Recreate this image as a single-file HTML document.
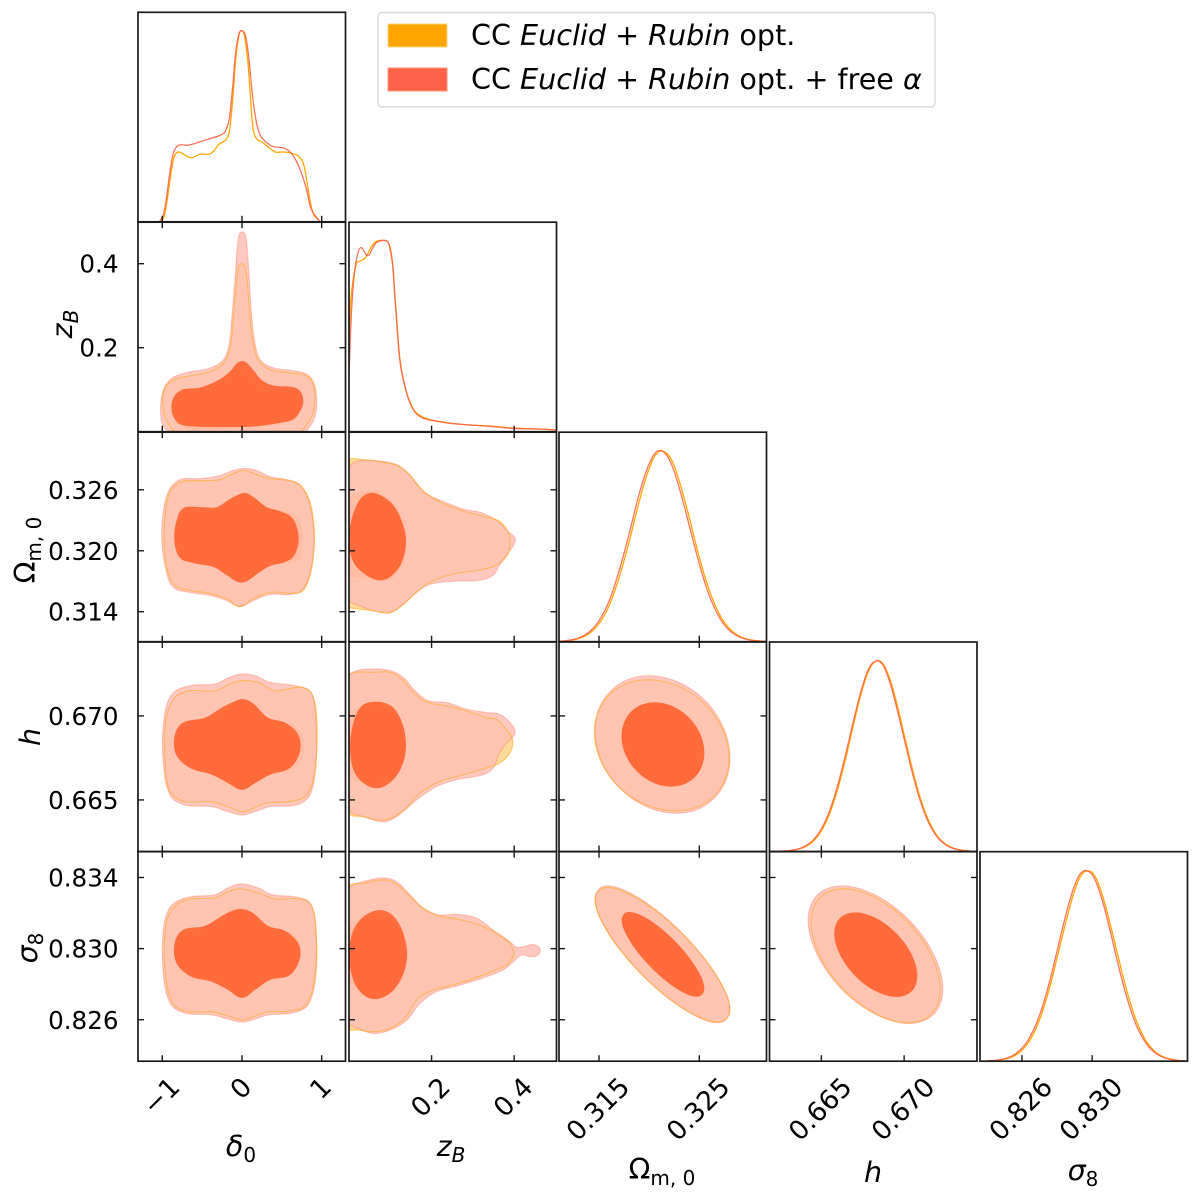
<!DOCTYPE html>
<html lang="en">
<head>
<meta charset="utf-8">
<title>Triangle posterior plot</title>
<style>
html,body{margin:0;padding:0;background:#fff;}
svg{display:block;font-family:"DejaVu Sans","Liberation Sans",sans-serif;fill:#000;}
</style>
</head>
<body>
<svg id="plot" xmlns="http://www.w3.org/2000/svg" width="1200" height="1202" viewBox="0 0 1200 1202">
  <g id="panels"></g>
  <g id="axis-labels" font-size="28.5">
    <text x="241" y="1156" text-anchor="middle"><tspan font-style="italic">δ</tspan><tspan font-size="20" dy="6">0</tspan></text>
    <text x="451" y="1156" text-anchor="middle"><tspan font-style="italic">z</tspan><tspan font-size="20" font-style="italic" dy="6">B</tspan></text>
    <text x="662" y="1179" text-anchor="middle">Ω<tspan font-size="20" dy="6">m, 0</tspan></text>
    <text x="873" y="1182" text-anchor="middle" font-style="italic">h</text>
    <text x="1083" y="1180" text-anchor="middle"><tspan font-style="italic">σ</tspan><tspan font-size="20" dy="6">8</tspan></text>
    <text transform="translate(72,324) rotate(-90)" text-anchor="middle"><tspan font-style="italic">z</tspan><tspan font-size="20" font-style="italic" dy="6">B</tspan></text>
    <text transform="translate(35,550) rotate(-90)" text-anchor="middle">Ω<tspan font-size="20" dy="6">m, 0</tspan></text>
    <text transform="translate(40,737) rotate(-90)" text-anchor="middle" font-style="italic">h</text>
    <text transform="translate(37,948) rotate(-90)" text-anchor="middle"><tspan font-style="italic">σ</tspan><tspan font-size="20" dy="6">8</tspan></text>
  </g>
  <g id="legend">
    <rect x="378" y="12.5" width="557" height="94.5" rx="4" ry="4" fill="#fff" stroke="#d9d9d9" stroke-width="1.4"/>
    <rect x="388" y="24" width="59" height="23" fill="#ffa500" stroke="#ffd27a" stroke-width="1"/>
    <text x="471" y="45" font-size="28.6">CC <tspan font-style="italic">Euclid</tspan> + <tspan font-style="italic">Rubin</tspan> opt.</text>
    <rect x="388" y="68" width="59" height="23" fill="#ff6347" stroke="#ff8f7e" stroke-width="1"/>
    <text x="471" y="89" font-size="28.6">CC <tspan font-style="italic">Euclid</tspan> + <tspan font-style="italic">Rubin</tspan> opt. + free <tspan font-style="italic">α</tspan></text>
  </g>
</svg>
<script>
/* ---------- tick values and labels ---------- */
const deltaTicks = [-1, 0, 1];
const deltaTickLabels = ['−1', '0', '1'];
const zbXTicks = [0.2, 0.4];
const zbXTickLabels = ['0.2', '0.4'];
const omegaXTicks = [0.315, 0.325];
const omegaXTickLabels = ['0.315', '0.325'];
const hXTicks = [0.665, 0.670];
const hXTickLabels = ['0.665', '0.670'];
const sigmaXTicks = [0.826, 0.830];
const sigmaXTickLabels = ['0.826', '0.830'];
const zbYTicks = [0.4, 0.2];
const zbYTickLabels = ['0.4', '0.2'];
const omegaYTicks = [0.326, 0.320, 0.314];
const omegaYTickLabels = ['0.326', '0.320', '0.314'];
const hYTicks = [0.670, 0.665];
const hYTickLabels = ['0.670', '0.665'];
const sigmaYTicks = [0.834, 0.830, 0.826];
const sigmaYTickLabels = ['0.834', '0.830', '0.826'];

/* ---------- 1D marginals: [parameter, relative density] ---------- */
const deltaOrange1D = [[-1.038,0],[-.987,.017],[-.946,.096],[-.904,.218],[-.862,.323],[-.828,.358],[-.787,.365],[-.736,.354],[-.686,.342],[-.636,.335],[-.586,.342],[-.536,.353],[-.477,.354],[-.41,.353],[-.351,.372],[-.285,.407],[-.201,.428],[-.159,.471],[-.117,.637],[-.075,.864],[-.033,.986],[0,1],[.033,.969],[.075,.829],[.109,.637],[.142,.48],[.184,.433],[.259,.415],[.351,.384],[.418,.365],[.519,.365],[.603,.361],[.707,.344],[.77,.305],[.812,.218],[.854,.113],[.904,.035],[.987,0]];
const deltaRed1D = [[-1.038,0],[-.987,.035],[-.946,.131],[-.904,.262],[-.862,.358],[-.82,.393],[-.77,.403],[-.695,.4],[-.611,.407],[-.527,.419],[-.402,.435],[-.276,.452],[-.213,.471],[-.163,.532],[-.117,.707],[-.075,.899],[-.033,.99],[0,1],[.042,.977],[.084,.864],[.134,.654],[.184,.515],[.234,.449],[.31,.414],[.393,.393],[.519,.387],[.603,.366],[.686,.314],[.762,.236],[.812,.166],[.874,.061],[.98,0]];
const zbOrange1D = [[0,.471],[.004,.68],[.0105,.803],[.0185,.881],[.027,.894],[.036,.902],[.044,.925],[.052,.96],[.063,.991],[.075,1],[.091,.998],[.099,.969],[.106,.873],[.111,.716],[.117,.541],[.123,.384],[.131,.279],[.144,.175],[.16,.105],[.18,.075],[.204,.059],[.244,.045],[.293,.035],[.341,.03],[.398,.019],[.462,.014],[.5,.009]];
const zbRed1D = [[0,.297],[.0065,.646],[.0145,.855],[.0226,.942],[.029,.963],[.036,.946],[.046,.921],[.055,.951],[.065,.986],[.079,1],[.093,.995],[.099,.96],[.106,.864],[.111,.707],[.117,.532],[.123,.375],[.131,.276],[.144,.171],[.16,.101],[.18,.07],[.204,.058],[.244,.044],[.293,.035],[.341,.028],[.398,.017],[.462,.014],[.5,.009]];
const omegaOrange1D = [[.3110,.0018],[.3120,.0058],[.3130,.0167],[.3140,.042],[.3150,.095],[.3160,.187],[.3170,.334],[.3180,.522],[.3190,.732],[.3200,.904],[.3210,.995],[.3220,.971],[.3230,.84],[.3240,.649],[.3250,.441],[.3260,.269],[.3270,.144],[.3280,.069],[.3290,.029],[.3300,.011],[.3310,.004],[.3317,.001]];
const omegaRed1D = [[.3110,.0023],[.3120,.0072],[.3130,.0204],[.3140,.05],[.3150,.11],[.3160,.212],[.3170,.37],[.3180,.564],[.3190,.772],[.3200,.93],[.3210,1],[.3220,.953],[.3230,.804],[.3240,.607],[.3250,.407],[.3260,.24],[.3270,.127],[.3280,.059],[.3290,.025],[.3300,.009],[.3310,.003],[.3317,.001]];
const hOrange1D = [[.6620,.0004],[.6625,.0012],[.6630,.0037],[.6635,.0099],[.6640,.024],[.6645,.053],[.6650,.108],[.6655,.198],[.6660,.33],[.6665,.498],[.6670,.685],[.6675,.855],[.6680,.969],[.6685,.998],[.6690,.934],[.6695,.793],[.6700,.612],[.6705,.43],[.6710,.273],[.6715,.158],[.6720,.081],[.6725,.039],[.6730,.017],[.6735,.0066],[.6740,.0023]];
const hRed1D = [[.6620,.0005],[.6625,.0014],[.6630,.0043],[.6635,.011],[.6640,.027],[.6645,.059],[.6650,.118],[.6655,.213],[.6660,.35],[.6665,.52],[.6670,.705],[.6675,.87],[.6680,.977],[.6685,.995],[.6690,.92],[.6695,.77],[.6700,.59],[.6705,.41],[.6710,.258],[.6715,.147],[.6720,.075],[.6725,.035],[.6730,.015],[.6735,.0058],[.6740,.002]];
const sigmaOrange1D = [[.8240,.0012],[.8245,.0038],[.8250,.01],[.8255,.025],[.8260,.057],[.8265,.117],[.8270,.216],[.8275,.36],[.8280,.54],[.8285,.727],[.8290,.891],[.8295,.987],[.8300,.987],[.8305,.891],[.8310,.727],[.8315,.54],[.8320,.36],[.8325,.216],[.8330,.117],[.8335,.057],[.8340,.025],[.8345,.01],[.8350,.0038],[.8354,.0015]];
const sigmaRed1D = [[.8240,.0015],[.8245,.0046],[.8250,.0125],[.8255,.031],[.8260,.068],[.8265,.135],[.8270,.24],[.8275,.391],[.8280,.576],[.8285,.766],[.8290,.919],[.8295,.995],[.8300,.976],[.8305,.864],[.8310,.691],[.8315,.498],[.8320,.325],[.8325,.191],[.8330,.103],[.8335,.05],[.8340,.022],[.8345,.0084],[.8350,.003],[.8354,.0012]];

/* ---------- 2D contours: [x parameter, y parameter] ---------- */
const zbDeltaRedOuter = [[0,.476],[.042,.468],[.067,.433],[.092,.361],[.126,.266],[.176,.198],[.247,.167],[.393,.152],[.644,.145],[.812,.137],[.904,.115],[.937,.075],[.916,.036],[.833,.008],[.686,-.012],[-.695,-.012],[-.967,.008],[-1.021,.052],[-.987,.099],[-.883,.127],[-.695,.141],[-.444,.149],[-.255,.167],[-.172,.198],[-.13,.266],[-.088,.361],[-.059,.44],[-.033,.471]];
const zbDeltaOrangeOuter = [[0,.4],[.042,.389],[.071,.345],[.1,.274],[.142,.21],[.205,.171],[.351,.148],[.603,.14],[.812,.133],[.895,.111],[.916,.075],[.874,.036],[.749,0],[.686,-.016],[-.695,-.016],[-.849,0],[-.967,.036],[-.996,.075],[-.967,.103],[-.862,.123],[-.653,.133],[-.402,.143],[-.234,.163],[-.151,.198],[-.109,.266],[-.075,.345],[-.046,.389]];
const zbDeltaRedInner = [[.008,.168],[.059,.164],[.142,.147],[.247,.123],[.393,.11],[.644,.106],[.736,.095],[.77,.071],[.728,.048],[.644,.029],[.477,.021],[.184,.013],[-.151,.011],[-.569,.012],[-.778,.018],[-.87,.04],[-.883,.067],[-.841,.087],[-.736,.101],[-.527,.105],[-.297,.123],[-.151,.143],[-.059,.164]];
const zbDeltaOrangeInner = [[.008,.147],[.079,.137],[.163,.115],[.268,.102],[.477,.099],[.644,.103],[.736,.091],[.762,.069],[.707,.044],[.561,.026],[.268,.012],[-.151,.006],[-.569,.006],[-.778,.013],[-.862,.036],[-.87,.067],[-.82,.087],[-.695,.095],[-.485,.099],[-.276,.115],[-.109,.135],[-.046,.145]];

const omegaDeltaRedOuter = [[.038,.3281],[.184,.3279],[.351,.3273],[.561,.3270],[.728,.3265],[.833,.3250],[.895,.3227],[.904,.3204],[.854,.3178],[.75,.3161],[.603,.3157],[.351,.3157],[.142,.3151],[-.025,.3145],[-.192,.3151],[-.402,.3156],[-.653,.3159],[-.862,.3164],[-.954,.3181],[-1.004,.3207],[-.996,.3233],[-.925,.3258],[-.778,.3270],[-.527,.3271],[-.276,.3274],[-.109,.3279]];
const omegaDeltaOrangeOuter = [[.025,.3279],[.184,.3275],[.351,.3271],[.603,.3269],[.749,.3263],[.854,.3248],[.904,.3224],[.904,.3201],[.862,.3178],[.77,.3161],[.644,.3158],[.351,.3159],[.142,.3153],[-.033,.3145],[-.192,.3153],[-.402,.3158],[-.653,.3161],[-.841,.3166],[-.937,.3181],[-.975,.3207],[-.967,.3233],[-.904,.3258],[-.757,.3268],[-.527,.3269],[-.276,.3270],[-.109,.3276]];
const omegaDeltaRedInner = [[.029,.3257],[.142,.3253],[.31,.3243],[.477,.3239],[.623,.3233],[.699,.3220],[.707,.3207],[.644,.3194],[.54,.3189],[.351,.3185],[.205,.3178],[.059,.3170],[-.046,.3169],[-.192,.3176],[-.36,.3184],[-.611,.3188],[-.778,.3193],[-.849,.3210],[-.82,.3230],[-.736,.3242],[-.527,.3243],[-.318,.3243],[-.151,.3251]];
const omegaDeltaOrangeInner = [[.029,.3256],[.163,.3251],[.351,.3241],[.603,.3238],[.728,.3230],[.762,.3210],[.728,.3192],[.561,.3187],[.372,.3186],[.205,.3179],[.059,.3170],[-.046,.3169],[-.192,.3178],[-.36,.3186],[-.611,.3189],[-.778,.3192],[-.849,.3209],[-.8,.3227],[-.715,.3238],[-.527,.3238],[-.318,.3241],[-.151,.3250]];

const hDeltaRedOuter = [[0,.6725],[.163,.6724],[.351,.6720],[.665,.6718],[.866,.6714],[.928,.6695],[.928,.6671],[.853,.6653],[.69,.6647],[.351,.6646],[.163,.6643],[0,.6641],[-.176,.6643],[-.376,.6646],[-.715,.6647],[-.903,.6653],[-.991,.6674],[-.979,.6698],[-.878,.6713],[-.652,.6718],[-.339,.6719],[-.151,.6723]];
const hDeltaOrangeOuter = [[0,.6721],[.201,.6720],[.414,.6715],[.728,.6717],[.878,.6713],[.941,.6695],[.916,.6668],[.816,.6653],[.602,.6649],[.289,.6648],[.1,.6644],[-.013,.6643],[-.176,.6646],[-.402,.6649],[-.715,.6649],[-.903,.6655],[-.966,.6674],[-.954,.6698],[-.841,.6711],[-.652,.6715],[-.339,.6715],[-.151,.6719]];
const hDeltaRedInner = [[0,.6710],[.125,.6708],[.326,.6699],[.54,.6696],[.703,.6689],[.728,.6679],[.602,.6669],[.351,.6665],[.163,.6660],[0,.6656],[-.176,.6660],[-.376,.6665],[-.652,.6669],[-.828,.6677],[-.841,.6689],[-.74,.6696],[-.464,.6699],[-.251,.6705],[-.125,.6708]];
const hDeltaOrangeInner = [[0,.6709],[.125,.6707],[.326,.6698],[.602,.6696],[.753,.6689],[.765,.6677],[.627,.6668],[.351,.6665],[.163,.6660],[0,.6656],[-.176,.6661],[-.376,.6666],[-.652,.6669],[-.816,.6677],[-.816,.6688],[-.715,.6695],[-.464,.6698],[-.251,.6702],[-.125,.6707]];

const sigmaDeltaRedOuter = [[0,.83365],[.201,.83342],[.376,.83303],[.665,.83291],[.853,.83257],[.928,.83105],[.928,.82852],[.828,.82683],[.627,.82638],[.326,.82627],[.163,.82604],[0,.82587],[-.176,.82604],[-.376,.82627],[-.715,.82638],[-.903,.82694],[-.991,.8288],[-.979,.83133],[-.878,.83246],[-.652,.83291],[-.339,.83303],[-.151,.83347]];
const sigmaDeltaOrangeOuter = [[0,.83336],[.201,.83314],[.414,.8328],[.703,.8328],[.866,.83246],[.928,.83105],[.916,.82852],[.803,.82683],[.602,.82649],[.326,.82644],[.163,.82621],[0,.82598],[-.176,.82621],[-.376,.82644],[-.715,.82649],[-.878,.827],[-.966,.8288],[-.954,.83133],[-.841,.83241],[-.627,.8328],[-.339,.83285],[-.151,.83325]];
const sigmaDeltaRedInner = [[0,.83223],[.138,.83201],[.326,.83128],[.54,.831],[.703,.83032],[.728,.82948],[.602,.82852],[.351,.82824],[.163,.82768],[0,.82723],[-.176,.82768],[-.376,.82813],[-.652,.82846],[-.828,.82925],[-.841,.83038],[-.74,.83105],[-.464,.83128],[-.251,.83184],[-.125,.83212]];
const sigmaDeltaOrangeInner = [[0,.83207],[.138,.83179],[.326,.83111],[.602,.83094],[.728,.83021],[.728,.82948],[.602,.82852],[.351,.82818],[.163,.82768],[0,.82728],[-.176,.82773],[-.376,.82824],[-.652,.8284],[-.816,.82908],[-.828,.83021],[-.715,.83088],[-.464,.83105],[-.251,.83156],[-.125,.83195]];

const omegaZbRedOuter = [[0,.3281],[.0185,.3288],[.059,.3289],[.115,.3285],[.144,.3276],[.18,.3258],[.22,.3250],[.277,.3241],[.317,.3238],[.357,.3230],[.385,.3219],[.403,.3211],[.382,.3196],[.365,.3186],[.349,.3176],[.317,.3171],[.252,.3170],[.196,.3167],[.16,.3158],[.131,.3147],[.099,.3139],[.059,.3141],[.0185,.3147],[0,.3151],[-.03,.3188],[-.03,.3237]];
const omegaZbOrangeOuter = [[0,.3289],[.027,.3290],[.067,.3288],[.115,.3284],[.144,.3276],[.18,.3259],[.22,.3248],[.277,.3239],[.325,.3234],[.365,.3229],[.385,.3219],[.39,.3210],[.385,.3197],[.357,.3186],[.317,.3181],[.252,.3177],[.196,.3169],[.16,.3158],[.131,.3147],[.099,.3139],[.059,.3141],[.0185,.3143],[0,.3145],[-.03,.3188],[-.03,.3237]];
const omegaZbRedInner = [[.055,.3257],[.079,.3254],[.107,.3245],[.127,.3230],[.138,.3210],[.127,.3188],[.099,.3174],[.071,.3171],[.035,.3178],[.0105,.3189],[0,.3207],[.004,.3227],[.0185,.3245],[.035,.3254]];
const omegaZbOrangeInner = [[0,.3255],[.027,.3258],[.059,.3259],[.087,.3255],[.115,.3243],[.135,.3227],[.14,.3210],[.131,.3188],[.103,.3172],[.071,.3170],[.035,.3173],[0,.3175],[-.03,.3188],[-.03,.3237]];

const hZbRedOuter = [[0,.6724],[.0185,.6727],[.059,.6728],[.099,.6727],[.131,.6723],[.16,.6715],[.192,.6709],[.236,.6708],[.285,.6704],[.333,.6702],[.365,.6701],[.39,.6696],[.402,.6690],[.382,.6684],[.365,.6678],[.349,.6669],[.325,.6665],[.26,.6662],[.212,.6658],[.164,.6650],[.115,.6640],[.083,.6637],[.035,.6640],[0,.6644],[-.03,.6666],[-.03,.6706]];
const hZbOrangeOuter = [[0,.6724],[.0185,.6726],[.059,.6726],[.099,.6726],[.127,.6722],[.16,.6713],[.192,.6708],[.236,.6706],[.285,.6703],[.333,.6699],[.357,.6698],[.381,.6692],[.396,.6686],[.39,.6678],[.365,.6672],[.333,.6669],[.277,.6665],[.22,.6661],[.172,.6654],[.123,.6642],[.083,.6638],[.035,.6640],[0,.6642],[-.03,.6666],[-.03,.6706]];
const hZbRedInner = [[.047,.6708],[.083,.6708],[.111,.6704],[.131,.6694],[.138,.6683],[.131,.6672],[.107,.6662],[.071,.6657],[.035,.6660],[.0105,.6668],[.0024,.6682],[.0105,.6696],[.027,.6705]];
const hZbOrangeInner = [[0,.6701],[.027,.6705],[.059,.6706],[.095,.6705],[.123,.6696],[.135,.6684],[.13,.6672],[.107,.6664],[.071,.6660],[.035,.6660],[0,.6664],[-.03,.6676]];

const sigmaZbRedOuter = [[0,.8334],[.035,.83377],[.083,.83398],[.115,.83377],[.148,.83302],[.18,.83227],[.216,.8319],[.26,.83193],[.309,.83171],[.349,.83105],[.39,.83039],[.406,.83008],[.43,.83015],[.446,.83023],[.462,.83002],[.458,.82964],[.438,.82955],[.418,.82964],[.398,.82927],[.373,.8288],[.333,.82842],[.269,.82795],[.212,.82758],[.172,.82692],[.14,.82598],[.099,.82542],[.059,.82523],[.023,.82551],[0,.82579],[-.03,.82805],[-.03,.8318]];
const sigmaZbOrangeOuter = [[0,.83353],[.035,.83368],[.083,.83387],[.111,.83368],[.148,.83293],[.18,.83227],[.216,.83186],[.26,.83167],[.309,.83139],[.349,.83096],[.385,.83039],[.399,.82983],[.39,.82927],[.365,.82889],[.325,.82852],[.26,.82801],[.204,.82767],[.168,.8272],[.135,.82608],[.099,.82551],[.059,.82532],[.023,.82542],[0,.82551],[-.03,.82805],[-.03,.8318]];
const sigmaZbRedInner = [[.071,.83216],[.099,.83199],[.123,.83133],[.138,.8303],[.14,.82936],[.127,.82833],[.099,.82748],[.059,.82716],[.027,.82758],[.0065,.82852],[.0008,.82974],[.009,.83096],[.035,.8318]];
const sigmaZbOrangeInner = [[0,.83133],[.043,.83171],[.083,.83186],[.115,.83133],[.134,.8303],[.135,.82936],[.123,.82833],[.091,.82748],[.059,.8272],[.027,.82758],[0,.82823],[-.03,.82992]];

const hOmegaRedOuter = [[.32806,.66748],[.32716,.66961],[.3247,.67137],[.32133,.67231],[.31796,.67219],[.3155,.671],[.3146,.66912],[.3155,.66699],[.31796,.66523],[.32133,.66429],[.3247,.66441],[.32716,.6656]];
const hOmegaOrangeOuter = [[.32797,.66747],[.32707,.6695],[.32461,.67118],[.32125,.67207],[.31789,.67196],[.31543,.67082],[.31453,.66903],[.31543,.667],[.31789,.66532],[.32125,.66443],[.32461,.66454],[.32707,.66568]];
const hOmegaRedInner = [[.3255,.6678],[.32495,.6691],[.32344,.67018],[.32137,.67076],[.3193,.67068],[.31779,.66996],[.31724,.6688],[.31779,.6675],[.3193,.66642],[.32137,.66584],[.32344,.66592],[.32495,.66664]];
const hOmegaOrangeInner = [[.32553,.66784],[.32498,.66912],[.32348,.67018],[.32142,.67075],[.31936,.67068],[.31786,.66996],[.31731,.66882],[.31786,.66754],[.31936,.66648],[.32142,.66591],[.32348,.66598],[.32498,.6667]];

const sigmaOmegaRedOuter = [[.32806,.82653],[.32716,.82805],[.3247,.83001],[.32133,.83189],[.31796,.83317],[.3155,.83351],[.3146,.83283],[.3155,.83131],[.31796,.82935],[.32133,.82747],[.3247,.82619],[.32716,.82585]];
const sigmaOmegaOrangeOuter = [[.32805,.82656],[.32715,.82806],[.32469,.82999],[.32133,.83183],[.31797,.83308],[.31551,.83342],[.31461,.83276],[.31551,.83126],[.31797,.82933],[.32133,.82749],[.32469,.82624],[.32715,.8259]];
const sigmaOmegaRedInner = [[.3255,.82773],[.32495,.82867],[.32344,.82989],[.32138,.83105],[.31932,.83184],[.31781,.83205],[.31726,.83163],[.31781,.83069],[.31932,.82947],[.32138,.82831],[.32344,.82752],[.32495,.82731]];
const sigmaOmegaOrangeInner = [[.32552,.82779],[.32497,.82871],[.32345,.8299],[.32138,.83104],[.31931,.83181],[.31779,.83202],[.31724,.83161],[.31779,.83069],[.31931,.8295],[.32138,.82836],[.32345,.82759],[.32497,.82738]];

const sigmaHRedOuter = [[.67234,.82772],[.67179,.82966],[.67031,.8316],[.66827,.83301],[.66623,.83353],[.66475,.83301],[.6642,.8316],[.66475,.82966],[.66623,.82772],[.66827,.82631],[.67031,.82579],[.67179,.82631]];
const sigmaHOrangeOuter = [[.67218,.82771],[.67166,.8296],[.67023,.83149],[.66828,.83286],[.66633,.83337],[.6649,.83286],[.66438,.83149],[.6649,.8296],[.66633,.82771],[.66828,.82634],[.67023,.82583],[.67166,.82634]];
const sigmaHRedInner = [[.6708,.82847],[.67046,.82966],[.66955,.83085],[.66829,.83172],[.66703,.83204],[.66612,.83172],[.66578,.83085],[.66612,.82966],[.66703,.82847],[.66829,.8276],[.66955,.82728],[.67046,.8276]];
const sigmaHOrangeInner = [[.67076,.82849],[.67043,.82966],[.66953,.83083],[.6683,.83168],[.66707,.83199],[.66617,.83168],[.66584,.83083],[.66617,.82966],[.66707,.82849],[.6683,.82764],[.66953,.82733],[.67043,.82764]];

/* ---------- layout and axis functions ---------- */
const NS = 'http://www.w3.org/2000/svg';
const svgRoot = document.getElementById('plot');
const panelsRoot = document.getElementById('panels');
const PANEL_W = 207.5;
const PANEL_H = 209.5;
const colLeft = [138, 349, 559, 769.5, 980];
const rowTop = [12.3, 222.2, 432.2, 642, 851.7];
const xDomains = [[-1.305, 1.299], [0, .5024], [.31101, .3317], [.66187, .6744], [.82361, .83543]];
const yDomains = [null, [0, .4988], [.31105, .33167], [.66193, .6744], [.82367, .83545]];
const density1DMax = 1.096;
const paramKeys = ['delta', 'zb', 'omega', 'h', 'sigma'];

function xScale(col) {
  const d = xDomains[col];
  return v => colLeft[col] + (v - d[0]) / (d[1] - d[0]) * PANEL_W;
}
function yScale(row) {
  const d = yDomains[row];
  return v => rowTop[row] + PANEL_H - (v - d[0]) / (d[1] - d[0]) * PANEL_H;
}
function yDensity(row) {
  return v => rowTop[row] + PANEL_H - v / density1DMax * PANEL_H;
}
function make(tag, attrs, parent) {
  const el = document.createElementNS(NS, tag);
  for (const k in attrs) el.setAttribute(k, attrs[k]);
  parent.appendChild(el);
  return el;
}
function segment(p0, p1, p2, p3) {
  const len = (a, b) => Math.hypot(a[0] - b[0], a[1] - b[1]) || 1;
  const L = len(p1, p2);
  const k1 = L / 3 / len(p0, p2);
  const k2 = L / 3 / len(p1, p3);
  return 'C' + (p1[0] + (p2[0] - p0[0]) * k1).toFixed(2) + ' ' + (p1[1] + (p2[1] - p0[1]) * k1).toFixed(2) + ' ' +
    (p2[0] - (p3[0] - p1[0]) * k2).toFixed(2) + ' ' + (p2[1] - (p3[1] - p1[1]) * k2).toFixed(2) + ' ' +
    p2[0].toFixed(2) + ' ' + p2[1].toFixed(2);
}
function smoothOpen(pts) {
  let d = 'M' + pts[0][0].toFixed(2) + ' ' + pts[0][1].toFixed(2);
  for (let i = 0; i < pts.length - 1; i++) {
    d += segment(pts[Math.max(i - 1, 0)], pts[i], pts[i + 1], pts[Math.min(i + 2, pts.length - 1)]);
  }
  return d;
}
function smoothClosed(pts) {
  const n = pts.length;
  let d = 'M' + pts[0][0].toFixed(2) + ' ' + pts[0][1].toFixed(2);
  for (let i = 0; i < n; i++) {
    d += segment(pts[(i - 1 + n) % n], pts[i], pts[(i + 1) % n], pts[(i + 2) % n]);
  }
  return d + 'Z';
}

/* ---------- frame and ticks ---------- */
const xTickSets = [deltaTicks, zbXTicks, omegaXTicks, hXTicks, sigmaXTicks];
const yTickSets = [null, zbYTicks, omegaYTicks, hYTicks, sigmaYTicks];
const xLabelSets = [deltaTickLabels, zbXTickLabels, omegaXTickLabels, hXTickLabels, sigmaXTickLabels];
const yLabelSets = [null, zbYTickLabels, omegaYTickLabels, hYTickLabels, sigmaYTickLabels];
const SPINE = '#1a1a1a';
const TICK_LEN = 6;

function addFrame(g, col, row, is2D) {
  const L = colLeft[col], T = rowTop[row], R = L + PANEL_W, B = T + PANEL_H;
  const X = xScale(col);
  xTickSets[col].forEach(v => {
    const px = X(v);
    const tick = make('line', {x1: px, x2: px, y1: B, y2: B - TICK_LEN, stroke: SPINE, 'stroke-width': 1.4}, g);
    
    
    if (is2D) {
      const top = make('line', {x1: px, x2: px, y1: T, y2: T + TICK_LEN, stroke: SPINE, 'stroke-width': 1.4}, g);
      
      
    }
  });
  if (is2D) {
    const Y = yScale(row);
    yTickSets[row].forEach(v => {
      const py = Y(v);
      const left = make('line', {x1: L, x2: L + TICK_LEN, y1: py, y2: py, stroke: SPINE, 'stroke-width': 1.4}, g);
      
      
      const right = make('line', {x1: R, x2: R - TICK_LEN, y1: py, y2: py, stroke: SPINE, 'stroke-width': 1.4}, g);
      
      
    });
  }
  const frame = make('rect', {x: L, y: T, width: PANEL_W, height: PANEL_H, fill: 'none', stroke: SPINE, 'stroke-width': 1.7}, g);
  
  
}

/* ---------- 1D panels ---------- */
function draw1D(col, orange, red) {
  const g = make('g', {}, panelsRoot);
  
  
  const X = xScale(col), Y = yDensity(col);
  const clipId = 'clip-d-' + col;
  const clip = make('clipPath', {id: clipId}, g);
  make('rect', {x: colLeft[col], y: rowTop[col], width: PANEL_W, height: PANEL_H}, clip);
  const body = make('g', {'clip-path': 'url(#' + clipId + ')'}, g);
  const o = make('path', {d: smoothOpen(orange.map(p => [X(p[0]), Y(p[1])])), fill: 'none', stroke: '#ffa500', 'stroke-width': 1.3}, body);
  
  
  const r = make('path', {d: smoothOpen(red.map(p => [X(p[0]), Y(p[1])])), fill: 'none', stroke: '#ff6347', 'stroke-width': 1.3, 'stroke-opacity': .9}, body);
  
  
  addFrame(g, col, col, false);
}

/* ---------- 2D panels ---------- */
function draw2D(col, row, orangeOuter, redOuter, orangeInner, redInner) {
  const g = make('g', {}, panelsRoot);
  const key = paramKeys[row] + '-vs-' + paramKeys[col];
  
  
  const X = xScale(col), Y = yScale(row);
  const clipId = 'clip-' + col + '-' + row;
  const clip = make('clipPath', {id: clipId}, g);
  make('rect', {x: colLeft[col], y: rowTop[row], width: PANEL_W, height: PANEL_H}, clip);
  const body = make('g', {'clip-path': 'url(#' + clipId + ')'}, g);
  const toPath = c => smoothClosed(c.map(p => [X(p[0]), Y(p[1])]));

  const oo = make('path', {d: toPath(orangeOuter), fill: '#ffdb99'}, body);
  
  
  const oi = make('path', {d: toPath(orangeInner), fill: '#ffaf4d'}, body);
  
  
  const ro = make('path', {d: toPath(redOuter), fill: 'rgb(255,192,182)', 'fill-opacity': .85, stroke: '#ff6347', 'stroke-opacity': .3, 'stroke-width': 1.2}, body);
  
  
  const ri = make('path', {d: toPath(redInner), fill: 'rgb(255,63,0)', 'fill-opacity': .65}, body);
  
  
  const ol = make('path', {d: toPath(orangeOuter), fill: 'none', stroke: '#ffa500', 'stroke-opacity': .5, 'stroke-width': 1.1}, body);
  
  
  addFrame(g, col, row, true);
}

draw1D(0, deltaOrange1D, deltaRed1D);
draw1D(1, zbOrange1D, zbRed1D);
draw1D(2, omegaOrange1D, omegaRed1D);
draw1D(3, hOrange1D, hRed1D);
draw1D(4, sigmaOrange1D, sigmaRed1D);

draw2D(0, 1, zbDeltaOrangeOuter, zbDeltaRedOuter, zbDeltaOrangeInner, zbDeltaRedInner);
draw2D(0, 2, omegaDeltaOrangeOuter, omegaDeltaRedOuter, omegaDeltaOrangeInner, omegaDeltaRedInner);
draw2D(0, 3, hDeltaOrangeOuter, hDeltaRedOuter, hDeltaOrangeInner, hDeltaRedInner);
draw2D(0, 4, sigmaDeltaOrangeOuter, sigmaDeltaRedOuter, sigmaDeltaOrangeInner, sigmaDeltaRedInner);
draw2D(1, 2, omegaZbOrangeOuter, omegaZbRedOuter, omegaZbOrangeInner, omegaZbRedInner);
draw2D(1, 3, hZbOrangeOuter, hZbRedOuter, hZbOrangeInner, hZbRedInner);
draw2D(1, 4, sigmaZbOrangeOuter, sigmaZbRedOuter, sigmaZbOrangeInner, sigmaZbRedInner);
draw2D(2, 3, hOmegaOrangeOuter, hOmegaRedOuter, hOmegaOrangeInner, hOmegaRedInner);
draw2D(2, 4, sigmaOmegaOrangeOuter, sigmaOmegaRedOuter, sigmaOmegaOrangeInner, sigmaOmegaRedInner);
draw2D(3, 4, sigmaHOrangeOuter, sigmaHRedOuter, sigmaHOrangeInner, sigmaHRedInner);

/* ---------- tick labels ---------- */
const X_TICK_FONT = 26.5;
const Y_TICK_FONT = 24.6;
const labelsGroup = make('g', {}, svgRoot);



for (let col = 0; col < 5; col++) {
  const X = xScale(col);
  xTickSets[col].forEach((v, i) => {
    const t = make('text', {'text-anchor': 'middle', x: 0, y: 9.6, 'font-size': X_TICK_FONT}, labelsGroup);
    t.textContent = xLabelSets[col][i];
    
    
    const w = t.getComputedTextLength();
    const cy = 1075 + 0.354 * (w + 19.3);
    t.setAttribute('transform', 'translate(' + (X(v) - 1.5).toFixed(2) + ',' + cy.toFixed(2) + ') rotate(-45)');
  });
}
for (let row = 1; row < 5; row++) {
  const Y = yScale(row);
  yTickSets[row].forEach((v, i) => {
    const t = make('text', {'text-anchor': 'end', x: 118.5, y: (Y(v) + 9).toFixed(2), 'font-size': Y_TICK_FONT}, labelsGroup);
    t.textContent = yLabelSets[row][i];
    
    
  });
}
</script>
</body>
</html>
